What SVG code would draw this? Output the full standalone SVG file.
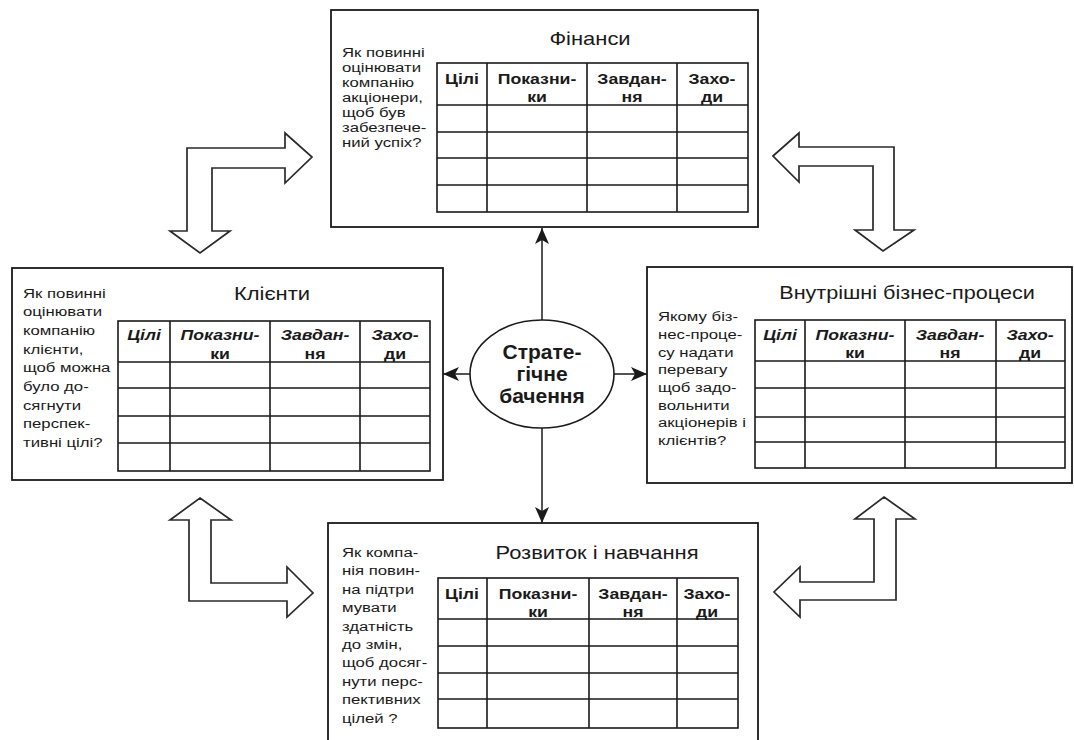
<svg xmlns="http://www.w3.org/2000/svg" width="1074" height="740" viewBox="0 0 1074 740">
<defs>
<style>
.box{fill:#fff;stroke:#1a1a1a;stroke-width:1.8}
.tbl{fill:none;stroke:#1a1a1a;stroke-width:1.6}
.q{font-family:"Liberation Sans",Arial,sans-serif;font-size:13.5px;fill:#1a1a1a}
.t{font-family:"Liberation Sans",Arial,sans-serif;font-size:18px;fill:#1a1a1a;text-anchor:middle}
.h{font-family:"Liberation Sans",Arial,sans-serif;font-size:14.5px;font-weight:bold;fill:#1a1a1a;text-anchor:middle}
.hi{font-style:italic}
.c{font-family:"Liberation Sans",Arial,sans-serif;font-size:21px;font-weight:bold;fill:#1a1a1a;text-anchor:middle}
.conn{stroke:#1a1a1a;stroke-width:1.5;fill:none}
.blk{fill:#fff;stroke:#2a2a2a;stroke-width:1.7;stroke-linejoin:miter}
</style>
<marker id="ah" markerUnits="userSpaceOnUse" markerWidth="18" markerHeight="16" refX="16" refY="7" orient="auto">
<path d="M0,0 L16,7 L0,14 L4,7 z" fill="#1a1a1a"/>
</marker>
</defs>
<rect width="1074" height="740" fill="#fff"/>

<g id="block-arrows">
<polygon class="blk" points="187,148 285,148 285,133 312,157 285,183 285,168 212,168 212,231 230,231 200,253 170,231 187,231"/>
<polygon class="blk" points="773,156 799,133 799,147 894,147 894,230 914,230 883,251 855,230 873,230 873,166 799,166 799,182"/>
<polygon class="blk" points="200,498 231,520 211,520 211,583 287,583 287,567 313,593 287,617 287,601 189,601 189,520 170,520"/>
<polygon class="blk" points="884,497 915,519 896,519 896,600 800,600 800,617 774,592 800,567 800,582 874,582 874,519 855,519"/>
</g>

<g id="connectors">
<line class="conn" x1="542" y1="320" x2="542" y2="228" marker-end="url(#ah)"/>
<line class="conn" x1="470" y1="374" x2="443" y2="374" marker-end="url(#ah)"/>
<line class="conn" x1="613" y1="374" x2="647" y2="374" marker-end="url(#ah)"/>
<line class="conn" x1="542" y1="428" x2="542" y2="523" marker-end="url(#ah)"/>
</g>

<g id="finance">
<rect class="box" x="331" y="10" width="427" height="217"/>
<g transform="translate(590,0) scale(1.22,1)"><text class="t" x="0" y="45">Фінанси</text></g>
<g transform="translate(342,0) scale(1.24,1)">
<text class="q" x="0" y="57">Як повинні</text>
<text class="q" x="0" y="72">оцінювати</text>
<text class="q" x="0" y="87">компанію</text>
<text class="q" x="0" y="102">акціонери,</text>
<text class="q" x="0" y="117">щоб був</text>
<text class="q" x="0" y="132">забезпече-</text>
<text class="q" x="0" y="147">ний успіх?</text>
</g>
<rect class="tbl" x="437" y="63" width="311" height="149"/>
<path class="tbl" d="M437,105H748M437,132H748M437,158H748M437,185H748M487,63V212M587,63V212M677,63V212"/>
<g transform="translate(462,0) scale(1.22,1)"><text class="h" x="0" y="84">Цілі</text></g>
<g transform="translate(537,0) scale(1.22,1)"><text class="h" x="0" y="84">Показни-</text><text class="h" x="0" y="102">ки</text></g>
<g transform="translate(632,0) scale(1.22,1)"><text class="h" x="0" y="84">Завдан-</text><text class="h" x="0" y="102">ня</text></g>
<g transform="translate(712,0) scale(1.22,1)"><text class="h" x="0" y="84">Захо-</text><text class="h" x="0" y="102">ди</text></g>
</g>

<g id="clients">
<rect class="box" x="12" y="268" width="431" height="212"/>
<g transform="translate(272,0) scale(1.22,1)"><text class="t" x="0" y="300">Клієнти</text></g>
<g transform="translate(23,0) scale(1.24,1)">
<text class="q" x="0" y="298">Як повинні</text>
<text class="q" x="0" y="316">оцінювати</text>
<text class="q" x="0" y="335">компанію</text>
<text class="q" x="0" y="354">клієнти,</text>
<text class="q" x="0" y="372">щоб можна</text>
<text class="q" x="0" y="391">було до-</text>
<text class="q" x="0" y="410">сягнути</text>
<text class="q" x="0" y="428">перспек-</text>
<text class="q" x="0" y="447">тивні цілі?</text>
</g>
<rect class="tbl" x="118" y="321" width="312" height="150"/>
<path class="tbl" d="M118,362H430M118,388H430M118,416H430M118,443H430M170,321V471M270,321V471M360,321V471"/>
<g transform="translate(144,0) scale(1.22,1)"><text class="h hi" x="0" y="340">Цілі</text></g>
<g transform="translate(220,0) scale(1.22,1)"><text class="h hi" x="0" y="340">Показни-</text><text class="h" x="0" y="359">ки</text></g>
<g transform="translate(315,0) scale(1.22,1)"><text class="h hi" x="0" y="340">Завдан-</text><text class="h" x="0" y="359">ня</text></g>
<g transform="translate(395,0) scale(1.22,1)"><text class="h hi" x="0" y="340">Захо-</text><text class="h" x="0" y="359">ди</text></g>
</g>

<g id="processes">
<rect class="box" x="647" y="267" width="425" height="216"/>
<g transform="translate(907,0) scale(1.2,1)"><text class="t" x="0" y="299">Внутрішні бізнес-процеси</text></g>
<g transform="translate(658,0) scale(1.24,1)">
<text class="q" x="0" y="321">Якому біз-</text>
<text class="q" x="0" y="339">нес-проце-</text>
<text class="q" x="0" y="357">су надати</text>
<text class="q" x="0" y="374">перевагу</text>
<text class="q" x="0" y="392">щоб задо-</text>
<text class="q" x="0" y="410">вольнити</text>
<text class="q" x="0" y="427">акціонерів і</text>
<text class="q" x="0" y="445">клієнтів?</text>
</g>
<rect class="tbl" x="755" y="320" width="310" height="148"/>
<path class="tbl" d="M755,361H1065M755,388H1065M755,417H1065M755,442H1065M805,320V468M905,320V468M996,320V468"/>
<g transform="translate(780,0) scale(1.22,1)"><text class="h hi" x="0" y="340">Цілі</text></g>
<g transform="translate(855,0) scale(1.22,1)"><text class="h hi" x="0" y="340">Показни-</text><text class="h" x="0" y="358">ки</text></g>
<g transform="translate(950,0) scale(1.22,1)"><text class="h hi" x="0" y="340">Завдан-</text><text class="h" x="0" y="358">ня</text></g>
<g transform="translate(1030,0) scale(1.22,1)"><text class="h hi" x="0" y="340">Захо-</text><text class="h" x="0" y="358">ди</text></g>
</g>

<g id="learning">
<rect class="box" x="328" y="523" width="430" height="240"/>
<g transform="translate(597,0) scale(1.22,1)"><text class="t" x="0" y="559">Розвиток і навчання</text></g>
<g transform="translate(342,0) scale(1.24,1)">
<text class="q" x="0" y="557">Як компа-</text>
<text class="q" x="0" y="575">нія повин-</text>
<text class="q" x="0" y="594">на підтри</text>
<text class="q" x="0" y="612">мувати</text>
<text class="q" x="0" y="631">здатність</text>
<text class="q" x="0" y="649">до змін,</text>
<text class="q" x="0" y="667">щоб досяг-</text>
<text class="q" x="0" y="686">нути перс-</text>
<text class="q" x="0" y="704">пективних</text>
<text class="q" x="0" y="723">цілей ?</text>
</g>
<rect class="tbl" x="438" y="578" width="300" height="150"/>
<path class="tbl" d="M438,619H738M438,646H738M438,673H738M438,699H738M487,578V728M589,578V728M677,578V728"/>
<g transform="translate(462,0) scale(1.22,1)"><text class="h" x="0" y="599">Цілі</text></g>
<g transform="translate(538,0) scale(1.22,1)"><text class="h" x="0" y="599">Показни-</text><text class="h" x="0" y="617">ки</text></g>
<g transform="translate(633,0) scale(1.22,1)"><text class="h" x="0" y="599">Завдан-</text><text class="h" x="0" y="617">ня</text></g>
<g transform="translate(707,0) scale(1.22,1)"><text class="h" x="0" y="599">Захо-</text><text class="h" x="0" y="617">ди</text></g>
</g>

<g id="vision">
<ellipse cx="542" cy="374" rx="72" ry="54" fill="#fff" stroke="#1a1a1a" stroke-width="1.6"/>
<text class="c" x="542" y="359">Страте-</text>
<text class="c" x="542" y="381">гічне</text>
<text class="c" x="542" y="403">бачення</text>
</g>
</svg>
